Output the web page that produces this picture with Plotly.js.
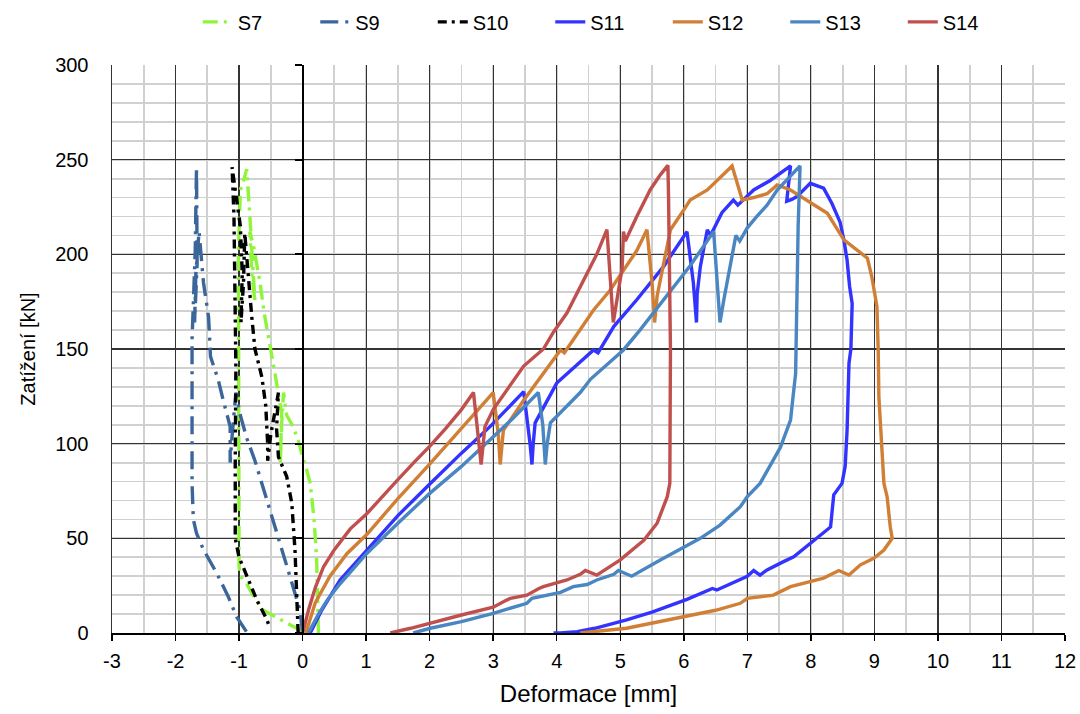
<!DOCTYPE html>
<html>
<head>
<meta charset="utf-8">
<script src="https://cdn.plot.ly/plotly-3.0.1.min.js"></script>
<style>html,body{margin:0;padding:0;background:#fff;}#chart{width:1080px;height:714px;}</style>
</head>
<body>
<div id="chart"></div>
<script>
// ---- data (Deformace [mm], Zatížení [kN]) ----
const seriesNames = ["S7", "S9", "S10", "S11", "S12", "S13", "S14"];

const s7x = [0.25, 0.24, 0.22, 0.18, 0.12, 0.05, 0.0, -0.07, -0.15, -0.25, -0.3, -0.33, -0.35, -0.34, -0.33, -0.45, -0.51, -0.6, -0.67, -0.72, -0.77, -0.83, -0.8, -0.75, -0.78, -0.83, -0.86, -0.88, -0.92, -0.98, -1.01, -1.01, -1.0, -1.0, -0.98, -0.88, -0.75, -0.62, -0.45, -0.3, -0.15, 0.01];
const s7y = [0, 20, 40, 60, 79, 88, 93, 102, 109, 115, 127, 110, 90, 100, 116, 140, 151, 168, 185, 195, 204, 212, 190, 175, 195, 220, 235, 245, 240, 234, 202, 150, 80, 35, 30, 26, 18, 12, 9, 6, 3.5, 1];

const s9x = [0.0, -0.04, -0.2, -0.41, -0.56, -0.75, -0.88, -0.98, -1.05, -1.12, -1.14, -1.14, -1.14, -1.25, -1.33, -1.45, -1.48, -1.56, -1.61, -1.63, -1.68, -1.70, -1.66, -1.67, -1.67, -1.69, -1.74, -1.74, -1.72, -1.67, -1.56, -1.35, -1.17, -1.04, -0.88];
const s9y = [0, 12, 30, 54, 70, 91, 103, 115, 127, 100, 90, 103, 109, 123, 134, 146, 167, 185, 202, 212, 190, 164, 195, 230, 246, 202, 155, 79, 60, 52.7, 44, 31.5, 19.2, 8.6, 0.5];

const s10x = [-0.07, -0.09, -0.12, -0.17, -0.25, -0.38, -0.41, -0.38, -0.5, -0.55, -0.55, -0.58, -0.64, -0.75, -0.8, -0.91, -0.93, -0.97, -0.95, -0.98, -1.05, -1.11, -1.08, -1.06, -1.05, -1.06, -1.06, -1.0, -0.91, -0.72, -0.56, -0.53];
const s10y = [0, 22.7, 44, 68.5, 82.6, 93, 108, 127, 105, 91, 100, 120, 135, 150, 167, 211, 185, 164, 190, 215, 232, 246, 220, 180, 140, 90, 50, 40, 32.4, 17.4, 6.9, 4];

const s11x = [0.12, 0.3, 0.59, 0.8, 1.01, 1.5, 2.01, 2.5, 2.95, 3.2, 3.48, 3.58, 3.61, 3.63, 3.66, 4.0, 4.3, 4.58, 4.65, 4.9, 5.26, 5.68, 6.05, 6.15, 6.2, 6.21, 6.26, 6.37, 6.42, 6.6, 6.78, 6.85, 7.1, 7.36, 7.68, 7.62, 7.7, 7.78, 7.99, 8.1, 8.2, 8.33, 8.46, 8.52, 8.57, 8.61, 8.65, 8.63, 8.6, 8.57, 8.54, 8.49, 8.36, 8.31, 8.15, 7.99, 7.83, 7.73, 7.57, 7.31, 7.2, 7.1, 7.0, 6.52, 6.45, 6.05, 5.5, 5.1, 4.6, 4.32, 4.06, 3.95];
const s11y = [0, 12, 28, 36, 44, 62, 79, 95, 109, 118, 127.5, 100, 89, 100, 111, 132, 141, 149.5, 148, 162, 176, 193.5, 212, 185, 164, 179, 193.5, 213, 210, 222, 228.7, 226, 234, 239, 246.7, 228, 229, 230.5, 237.5, 236, 235, 227, 217, 207.6, 197, 183, 174, 150, 142.5, 107, 88, 79, 73, 56, 51.8, 47.4, 43, 40.3, 37.7, 33.3, 30.6, 33, 30, 22.7, 23.5, 17.8, 11, 6.9, 2.5, 0.7, 0, 0];

const s12x = [0.05, 0.2, 0.43, 0.7, 1.01, 1.5, 2.01, 2.5, 3.0, 3.08, 3.11, 3.16, 3.48, 4.06, 4.12, 4.58, 4.84, 5.26, 5.42, 5.5, 5.54, 5.58, 5.79, 6.0, 6.1, 6.37, 6.63, 6.76, 6.92, 7.1, 7.31, 7.47, 7.68, 7.94, 8.26, 8.52, 8.89, 8.96, 9.04, 9.06, 9.07, 9.15, 9.2, 9.25, 9.28, 9.15, 8.99, 8.78, 8.6, 8.44, 8.2, 7.68, 7.41, 7.0, 6.89, 6.5, 6.0, 5.5, 5.1, 4.37];
const s12y = [0, 16, 30, 42, 52, 71, 89.6, 108, 127, 105, 89, 107, 123, 149.5, 148, 170.6, 181, 202, 213, 185, 164, 178, 213, 223.5, 228.7, 234, 242.8, 246.7, 228.7, 230, 232, 236.7, 234, 228.7, 221.7, 207.6, 198, 188, 172.4, 149.5, 125, 79, 72, 56, 50, 43.8, 39.5, 36, 30.6, 33, 29, 24.5, 20, 18.3, 15.7, 12, 8.6, 5, 2.5, 0];

const s13x = [0.09, 0.25, 0.4, 0.59, 0.8, 1.01, 1.5, 2.01, 2.5, 2.95, 3.3, 3.71, 3.78, 3.82, 3.85, 3.9, 4.37, 4.53, 5.05, 5.31, 5.68, 6.1, 6.47, 6.57, 6.63, 6.78, 6.82, 6.88, 7.0, 7.15, 7.31, 7.47, 7.78, 7.83, 7.8, 7.78, 7.76, 7.76, 7.72, 7.68, 7.52, 7.2, 7.0, 6.89, 6.57, 6.26, 5.63, 5.18, 4.97, 4.9, 4.63, 4.48, 4.26, 4.06, 3.61, 3.53, 3.0, 2.5, 2.01, 1.74];
const s13y = [0, 10, 18, 26, 34, 42, 58, 74, 88, 102, 113, 127, 110, 89, 100, 111, 127, 134, 149.5, 160, 176, 194, 212, 164, 176, 202, 210, 207, 214, 220, 226, 234, 244.6, 246.7, 215, 185, 150, 137, 125, 112.5, 98, 79, 72, 66.7, 57, 50, 38.6, 30, 33, 31, 28, 25.6, 24.5, 21.5, 18.3, 15.7, 10.4, 6, 2.5, 0];

const s14x = [0.0, 0.1, 0.2, 0.33, 0.5, 0.75, 1.01, 1.25, 1.5, 1.75, 2.01, 2.25, 2.5, 2.69, 2.80, 2.81, 2.87, 3.0, 3.25, 3.48, 3.79, 3.95, 4.16, 4.4, 4.63, 4.79, 4.89, 5.03, 5.05, 5.08, 5.26, 5.47, 5.63, 5.75, 5.76, 5.79, 5.79, 5.78, 5.74, 5.58, 5.37, 5.0, 4.63, 4.45, 4.37, 4.16, 3.79, 3.72, 3.53, 3.27, 3.22, 3.0, 2.5, 2.01, 1.7, 1.38];
const s14y = [0, 13, 24, 35, 44, 55, 63, 72, 81, 90, 99, 108, 118, 127, 92, 89, 109, 118, 130, 141, 150, 159, 169, 185, 200, 213, 164, 193, 212, 207, 220, 234, 242, 247, 230, 150, 100, 79, 72, 58, 49, 38.6, 30.6, 33, 31, 28, 24.5, 23.5, 20, 18.3, 17.5, 13.6, 9.5, 5, 2.5, 0];

const xTicks = [-3, -2, -1, 0, 1, 2, 3, 4, 5, 6, 7, 8, 9, 10, 11, 12];
const yTicks = [0, 50, 100, 150, 200, 250, 300];

// ---- styles ----
const styles = [
  {color: "#8FF53B", dash: "15px,6px,3px,6px"},
  {color: "#3B6699", dash: "18px,7px,3px,7px"},
  {color: "#000000", dash: "9px,5px,3px,5px"},
  {color: "#3333FF", dash: "solid"},
  {color: "#D07F35", dash: "solid"},
  {color: "#4A86C2", dash: "solid"},
  {color: "#C0504D", dash: "solid"}
];
const xs = [s7x, s9x, s10x, s11x, s12x, s13x, s14x];
const ys = [s7y, s9y, s10y, s11y, s12y, s13y, s14y];

const FONT = "Liberation Sans, Arial, sans-serif";
const traces = seriesNames.map((n, i) => ({
  type: "scatter", mode: "lines", name: n,
  x: xs[i], y: ys[i],
  line: {color: styles[i].color, width: 3.4, dash: styles[i].dash},
  hoverinfo: "x+y+name"
}));
// helper trace for the axis line drawn at x = 0
traces.push({type: "scatter", mode: "lines", x: [null], y: [null], yaxis: "y2", showlegend: false, hoverinfo: "skip"});

const layout = {
  width: 1080, height: 714,
  margin: {l: 112, r: 15, t: 65, b: 81, autoexpand: false},
  paper_bgcolor: "#ffffff", plot_bgcolor: "#ffffff",
  font: {family: FONT, size: 20, color: "#000"},
  showlegend: true,
  legend: {
    orientation: "h", x: 0.09, xanchor: "left", y: 1.076, yanchor: "middle",
    font: {family: FONT, size: 20, color: "#000"},
    entrywidth: 72.5, entrywidthmode: "pixels", itemwidth: 30,
    traceorder: "normal"
  },
  xaxis: {
    range: [-3, 12], tickmode: "array", tickvals: xTicks, ticktext: xTicks.map(String),
    ticks: "outside", ticklen: 6, tickwidth: 1.5, tickcolor: "#000",
    showline: true, linecolor: "#000", linewidth: 1.5, mirror: false,
    showgrid: true, gridcolor: "#333333", gridwidth: 1.2, zeroline: false,
    minor: {dtick: 0.5, tick0: 0, showgrid: true, gridcolor: "#d0d0d0", gridwidth: 1.8, ticks: ""},
    tickfont: {family: FONT, size: 20, color: "#000"},
    ticklabelstandoff: 3,
    title: {text: "Deformace [mm]", font: {family: FONT, size: 24, color: "#000"}, standoff: 14}
  },
  yaxis: {
    range: [0, 300], tickmode: "array", tickvals: yTicks, ticktext: yTicks.map(String),
    ticks: "", showline: true, linecolor: "#333", linewidth: 1.5, mirror: false,
    showgrid: true, gridcolor: "#333333", gridwidth: 1.2, zeroline: false,
    minor: {dtick: 10, tick0: 0, showgrid: true, gridcolor: "#d0d0d0", gridwidth: 1.8, ticks: ""},
    tickfont: {family: FONT, size: 20, color: "#000"},
    ticklabelstandoff: 18,
    title: {text: "Zatížení [kN]", font: {family: FONT, size: 20, color: "#000"}, standoff: 14}
  },
  yaxis2: {
    overlaying: "y", anchor: "free", position: 0.2, side: "left",
    range: [0, 300], tickmode: "array", tickvals: yTicks,
    showticklabels: false, ticks: "outside", ticklen: 7, tickwidth: 2, tickcolor: "#000",
    showline: true, linecolor: "#000", linewidth: 2, showgrid: false, zeroline: false
  }
};

Plotly.newPlot("chart", traces, layout, {displayModeBar: false, staticPlot: true});
</script>
</body>
</html>
